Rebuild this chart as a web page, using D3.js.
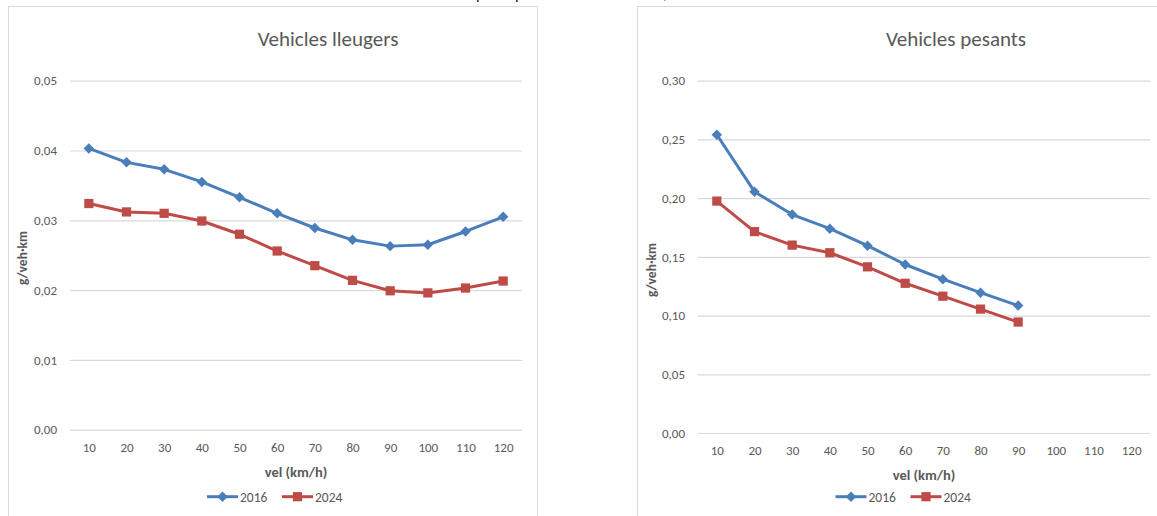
<!DOCTYPE html>
<html>
<head>
<meta charset="utf-8">
<script src="https://cdn.jsdelivr.net/npm/d3@7"></script>
<style>
  html, body { margin: 0; padding: 0; background: #fff; }
  svg { display: block; }
  text { font-family: Carlito, Calibri, Lato, sans-serif; fill: #595959; }
</style>
</head>
<body>
<svg id="chart" width="1157" height="516"></svg>
<script>
// Speed categories (km/h)
const speeds = ["10", "20", "30", "40", "50", "60", "70", "80", "90", "100", "110", "120"];

// Light vehicles, g/veh·km
const light2016 = [0.0403, 0.0383, 0.0373, 0.0355, 0.0333, 0.0310, 0.0289, 0.0272, 0.0263, 0.0265, 0.0284, 0.0305];
const light2024 = [0.0324, 0.0312, 0.0310, 0.0299, 0.0280, 0.0256, 0.0235, 0.0214, 0.0199, 0.0196, 0.0203, 0.0213];

// Heavy vehicles, g/veh·km (measured up to 90 km/h)
const heavy2016 = [0.254, 0.2055, 0.186, 0.174, 0.1595, 0.1435, 0.131, 0.1195, 0.1085];
const heavy2024 = [0.1975, 0.1715, 0.160, 0.1535, 0.1415, 0.1275, 0.1165, 0.1055, 0.0945];

// Value axis ticks
const lightTicks = [0, 0.01, 0.02, 0.03, 0.04, 0.05];
const heavyTicks = [0, 0.05, 0.10, 0.15, 0.20, 0.25, 0.30];

const seriesNames = ["2016", "2024"];

const BLUE = "#4A7EBB";
const RED = "#BE4B48";
const GRID = "#D9D9D9";

const locale = d3.formatLocale({ decimal: ",", thousands: ".", grouping: [3], currency: ["", " €"] });
const fmt = locale.format(".2f");

const svg = d3.select("#chart");

// Cut-off text running above the charts
const topText = svg.append("g").attr("font-size", 16);
[["p", 476], ["p", 515], [",", 663]].forEach(([t, x]) => {
  topText.append("text").attr("x", x).attr("y", -1).style("fill", "#111").text(t);
});

const panels = [
  {
    title: "Vehicles lleugers", titleX: 328,
    frame: { x: 8.5, y: 6.5, w: 529, h: 530 },
    plot: { x0: 70, x1: 522, top: 80.7, bottom: 429.7 },
    yMax: 0.05, ticks: lightTicks,
    values: [light2016, light2024],
    yTitleX: 22, yTitleY: 258,
    xTitleY: 477, legendCx: 276.5, legendY: 496.7
  },
  {
    title: "Vehicles pesants", titleX: 956,
    frame: { x: 637.5, y: 6.5, w: 540, h: 530 },
    plot: { x0: 698, x1: 1150, top: 80.7, bottom: 433 },
    yMax: 0.30, ticks: heavyTicks,
    values: [heavy2016, heavy2024],
    yTitleX: 651, yTitleY: 270,
    xTitleY: 480, legendCx: 905, legendY: 496.7
  }
];

// Marker shapes: diamond for the first series, square for the second
const diamond = d3.symbol().type(d3.symbolSquare).size(55);
const square = d3.symbol().type(d3.symbolSquare).size(85);

function marker(sel, i, color) {
  if (i === 0) {
    sel.append("path").attr("d", diamond()).attr("transform", "rotate(45)").attr("fill", color);
  } else {
    sel.append("path").attr("d", square()).attr("fill", color);
  }
}

panels.forEach(p => {
  const g = svg.append("g");

  g.append("rect")
    .attr("x", p.frame.x).attr("y", p.frame.y)
    .attr("width", p.frame.w).attr("height", p.frame.h)
    .attr("fill", "#fff").attr("stroke", GRID).attr("stroke-width", 1);

  const x = d3.scalePoint().domain(speeds).range([p.plot.x0, p.plot.x1]).padding(0.5);
  const y = d3.scaleLinear().domain([0, p.yMax]).range([p.plot.bottom, p.plot.top]);

  // Horizontal gridlines and value labels
  const yAxis = d3.axisLeft(y)
    .tickValues(p.ticks)
    .tickFormat(fmt)
    .tickSize(-(p.plot.x1 - p.plot.x0))
    .tickPadding(13);
  const ya = g.append("g").attr("transform", `translate(${p.plot.x0},0)`).call(yAxis);
  ya.select(".domain").remove();
  ya.selectAll(".tick line").attr("stroke", GRID).attr("stroke-width", 1.2);
  ya.selectAll(".tick text").attr("font-size", 13).style("fill", "#595959")
    .attr("font-family", "Lato, sans-serif");

  // Category labels
  const xAxis = d3.axisBottom(x).tickSize(0).tickPadding(13);
  const xa = g.append("g").attr("transform", `translate(0,${p.plot.bottom})`).call(xAxis);
  xa.select(".domain").remove();
  xa.selectAll(".tick text").attr("font-size", 13).style("fill", "#595959")
    .attr("font-family", "Lato, sans-serif");

  // Title
  g.append("text")
    .attr("x", p.titleX).attr("y", 46)
    .attr("text-anchor", "middle")
    .attr("font-size", 21)
    .text(p.title);

  // Axis titles
  g.append("text")
    .attr("x", (p.plot.x0 + p.plot.x1) / 2).attr("y", p.xTitleY)
    .attr("text-anchor", "middle")
    .attr("font-size", 14.5).attr("font-weight", "bold")
    .text("vel (km/h)");

  g.append("text")
    .attr("transform", `translate(${p.yTitleX + 4.5},${p.yTitleY}) rotate(-90)`)
    .attr("text-anchor", "middle")
    .attr("font-size", 13.5).attr("font-weight", "bold")
    .text("g/veh·km");

  // Series lines and markers
  const colors = [BLUE, RED];
  const line = d3.line()
    .x((d, i) => x(speeds[i]))
    .y(d => y(d));

  p.values.forEach((vals, si) => {
    g.append("path")
      .datum(vals)
      .attr("d", line)
      .attr("fill", "none")
      .attr("stroke", colors[si])
      .attr("stroke-width", 3)
      .attr("stroke-linejoin", "round")
      .attr("stroke-linecap", "round");

    g.append("g").selectAll("g")
      .data(vals)
      .join("g")
      .attr("transform", (d, i) => `translate(${x(speeds[i])},${y(d)})`)
      .each(function () { marker(d3.select(this), si, colors[si]); });
  });

  // Legend
  const lg = g.append("g");
  const itemW = [69, 64];
  let cx = p.legendCx - (itemW[0] + itemW[1] + 6) / 2;
  seriesNames.forEach((name, si) => {
    const it = lg.append("g").attr("transform", `translate(${cx},${p.legendY})`);
    it.append("line").attr("x1", 0).attr("x2", 31).attr("y1", 0).attr("y2", 0)
      .attr("stroke", colors[si]).attr("stroke-width", 3);
    const m = it.append("g").attr("transform", "translate(15.5,0)");
    marker(m, si, colors[si]);
    it.append("text").attr("x", 33).attr("y", 5)
      .attr("font-size", 13.5).attr("font-family", "Lato, sans-serif")
      .text(name);
    cx += itemW[si] + 6;
  });
});
</script>
</body>
</html>
